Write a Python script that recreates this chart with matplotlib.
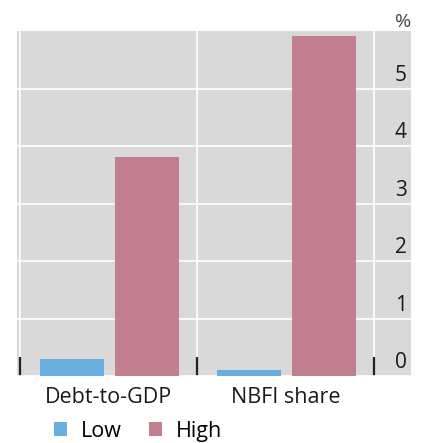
import matplotlib.pyplot as plt
import numpy as np
from matplotlib.transforms import ScaledTranslation

plt.rcParams['font.family'] = ['Open Sans', 'DejaVu Sans']

# data
categories = ['Debt-to-GDP', 'NBFI share']
low = [0.30, 0.10]
high = [3.81, 5.91]
series_names = ['Low', 'High']
yticks = [0, 1, 2, 3, 4, 5]

blue = '#6aaee0'
pink = '#c27f8f'

fig = plt.figure(figsize=(4.23, 4.43), dpi=100)
ax = fig.add_axes([0.0402, 0.1512, 0.9314, 0.7788])
ax.set_facecolor('#d9d9d9')

x = np.arange(len(categories))
w = 0.36
ax.bar(x - 0.207, low, width=w, color=blue, label=series_names[0], zorder=3)
ax.bar(x + 0.217, high, width=w, color=pink, label=series_names[1], zorder=3)

ax.set_xlim(-0.517, 1.709)
ax.set_ylim(0, 6)

# x: separators as major ticks, labels at minor ticks
ax.set_xticks([-0.5, 0.5, 1.5])
ax.set_xticklabels([])
ax.set_xticks(x, minor=True)
ax.set_xticklabels(categories, minor=True, fontsize=15.5, color='#1a1a1a')
ax.tick_params(axis='x', which='major', direction='in', length=13.5, width=1.6, color='#222222')
ax.tick_params(axis='x', which='minor', length=0, pad=8)

# y: labels on the right, inside, above the grid line
ax.yaxis.tick_right()
ax.set_yticks(yticks)
ax.set_yticklabels([str(t) for t in yticks], fontsize=15, color='#1a1a1a')
ax.tick_params(axis='y', length=0, pad=-3)
off = ScaledTranslation(0, 3 / 100, fig.dpi_scale_trans)
for lab in ax.get_yticklabels():
    lab.set_horizontalalignment('right')
    lab.set_verticalalignment('bottom')
    lab.set_transform(lab.get_transform() + off)

ax.grid(True, color='white', linewidth=1.2, zorder=0)
ax.set_axisbelow(True)
for s in ax.spines.values():
    s.set_visible(False)

fig.text(0.972, 0.951, '%', ha='right', va='center', fontsize=14, color='#444444')

fig.legend(loc='center', bbox_to_anchor=(0.326, 0.027), ncol=2, frameon=False,
           fontsize=15.5, handlelength=0.62, handleheight=0.62, handletextpad=0.65,
           columnspacing=1.25, borderpad=0.1)

fig.savefig('out.png', dpi=100)
